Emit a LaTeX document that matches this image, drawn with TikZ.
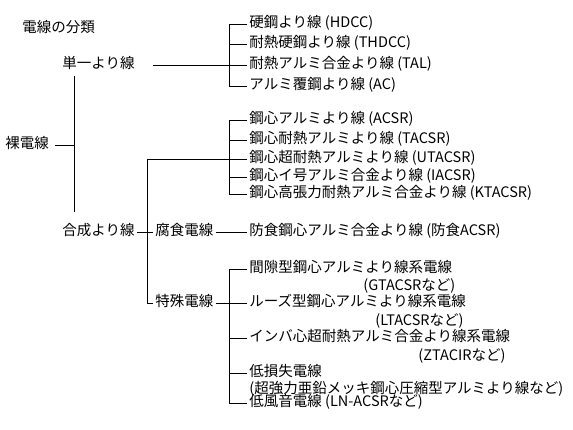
\documentclass[tikz,border=0pt]{standalone}
\usepackage{fontspec}
\setmainfont{Noto Sans CJK JP}
\usetikzlibrary{math}

\begin{document}
\begin{tikzpicture}[x=1pt,y=-1pt,line width=0.9pt,
  every node/.style={font=\fontsize{14.5}{16}\selectfont,inner xsep=2pt,inner ysep=1pt,
    text height=0.88em,text depth=0.12em},
  item/.style={anchor=west}]
\tikzmath{
\bx=229;
\ix=247;
}
\useasboundingbox (0,0) rectangle (573,430);

\coordinate (b) at (\bx,0);
\coordinate (trunk) at (74,0);
\coordinate (mid) at (147,0);

\node[item] (title) at (20,29) {電線の分類};
\node[item] (single) at (60,65) {単一より線};
\node[item] (bare) at (3,145) {裸電線};
\node[item] (compound) at (60,232) {合成より線};
\node[item] (corrosion) at (153,232) {腐食電線};
\node[item] (special) at (153,303) {特殊電線};

% wire types
\foreach \nm/\yy/\txt in {
  hdcc/24/{硬鋼より線 (HDCC)},
  thdcc/44/{耐熱硬鋼より線 (THDCC)},
  tal/65/{耐熱アルミ合金より線 (TAL)},
  ac/86/{アルミ覆鋼より線 (AC)},
  acsr/120/{鋼心アルミより線 (ACSR)},
  tacsr/140/{鋼心耐熱アルミより線 (TACSR)},
  utacsr/159/{鋼心超耐熱アルミより線 (UTACSR)},
  iacsr/177/{鋼心イ号アルミ合金より線 (IACSR)},
  ktacsr/194/{鋼心高張力耐熱アルミ合金より線 (KTACSR)},
  boshoku/232/{防食鋼心アルミ合金より線 (防食ACSR)},
  gtacsr/269/{間隙型鋼心アルミより線系電線},
  ltacsr/303/{ルーズ型鋼心アルミより線系電線},
  ztacir/338/{インバ心超耐熱アルミ合金より線系電線},
  lowloss/373/{低損失電線},
  lnacsr/403/{低風音電線 (LN-ACSRなど)}}{
\node[item] (\nm) at (\ix,\yy) {\txt};
}

\node[item] (gnote) at (361,287) {(GTACSRなど)};
\node[item] (lnote) at (373,322) {(LTACSRなど)};
\node[item] (znote) at (416,357) {(ZTACIRなど)};
\node[item] (lossnote) at (\ix,390) {(超強力亜鉛メッキ鋼心圧縮型アルミより線など)};

% branches
\draw (hdcc.west) -- (hdcc.west -| b) -- (ac.west -| b) -- (ac.west);
\foreach \nm in {thdcc,tal}
  \draw (\nm.west) -- (\nm.west -| b);
\draw (acsr.west) -- (acsr.west -| b) -- (ktacsr.west -| b) -- (ktacsr.west);
\foreach \nm in {tacsr,iacsr}
  \draw (\nm.west) -- (\nm.west -| b);
\draw (gtacsr.west) -- (gtacsr.west -| b) -- (lnacsr.west -| b) -- (lnacsr.west);
\foreach \nm in {ltacsr,ztacir,lowloss}
  \draw (\nm.west) -- (\nm.west -| b);

\draw ([xshift=16pt]single.east) -- (tal.west);
\draw ([xshift=4pt]bare.east) -- (bare.east -| trunk);
\draw ([yshift=-5pt]single.south -| trunk) -- ([yshift=14pt]compound.north -| trunk);
\draw (utacsr.west) -- (utacsr.west -| mid) -- (special.west -| mid) -- (special.west);
\draw (compound.east) -- (corrosion.west);
\draw (corrosion.east) -- (boshoku.west);
\draw (special.east) -- (ltacsr.west);

\end{tikzpicture}
\end{document}
